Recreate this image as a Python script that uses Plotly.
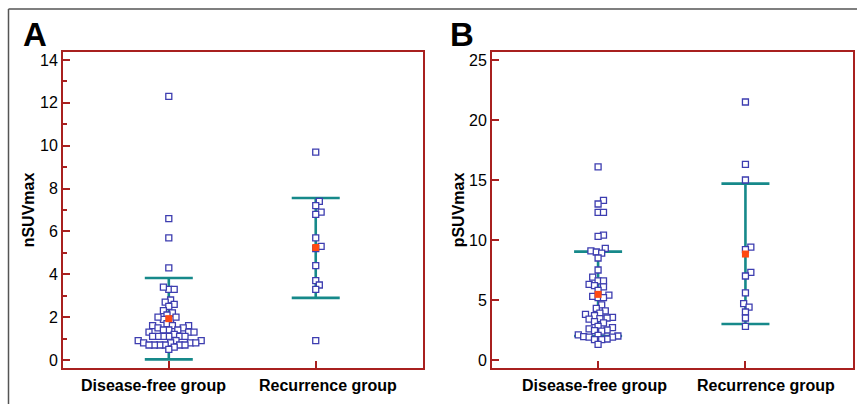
import plotly.graph_objects as go

# ---------------- data ----------------
groups = ["Disease-free group", "Recurrence group"]

nsuv_disease_free = [12.3, 6.6, 5.7, 4.3, 3.3, 3.3, 3.4, 2.8, 2.7, 2.6, 2.5, 2.3, 2.2, 2.1,
                     1.9, 1.9, 2.0, 2.0, 1.7, 1.6, 1.6, 1.6, 1.5, 1.5, 1.4, 1.4, 1.4,
                     1.3, 1.3, 1.3, 1.2, 1.1, 1.1, 1.1, 1.1, 1.1, 1.1, 0.9, 0.9, 0.9,
                     0.8, 0.8, 0.8, 0.8, 0.7, 0.7, 0.7, 0.7, 0.7, 0.7, 0.6, 0.5]
nsuv_recurrence = [9.7, 7.4, 7.2, 6.9, 6.8, 5.7, 5.3, 5.2, 4.4, 3.7, 3.5, 3.3, 0.9]

psuv_disease_free = [16.1, 13.3, 13.0, 12.3, 12.3, 10.4, 10.3, 9.3, 9.1, 9.0, 8.9, 8.5, 7.5,
                     6.9, 6.6, 6.6, 6.3, 6.2, 6.1, 5.8, 5.4, 5.3, 5.2, 5.2, 4.6, 4.3, 4.1,
                     3.9, 3.8, 3.7, 3.55, 3.5, 3.45, 3.4, 3.2, 3.1, 2.8, 2.7, 2.6, 2.5,
                     2.45, 2.4, 2.1, 2.05, 2.0, 1.95, 1.9, 1.9, 1.75, 1.7, 1.7, 1.3]
psuv_recurrence = [21.5, 16.3, 15.0, 9.4, 9.2, 7.3, 7.0, 5.6, 4.7, 4.4, 4.0, 3.5, 2.8]

# mean and error-bar ends per group
nsuv_mean = [1.93, 5.25]
nsuv_low = [0.03, 2.9]
nsuv_high = [3.83, 7.56]

psuv_mean = [5.47, 8.83]
psuv_low = [2.0, 3.0]
psuv_high = [9.03, 14.7]

nsuv_ticks = [0, 2, 4, 6, 8, 10, 12, 14]
psuv_ticks = [0, 5, 10, 15, 20, 25]

# ---------------- styling ----------------
FONT = "Liberation Sans, Arial, sans-serif"
FRAME = "#a8201f"
TEAL = "#16898a"
BLUE = "#3d3db0"
RED = "#ff4a12"

W, H = 857, 404
X_RANGE = [-0.72, 1.73]


def swarm(values, y_range, x_range, dom_h_px, dom_w_px, r=5.3, step=1.8):
    """Beeswarm offsets (in category units) computed from the values."""
    ppu_y = dom_h_px / (y_range[1] - y_range[0])
    ppu_x = dom_w_px / (x_range[1] - x_range[0])
    order = sorted(range(len(values)), key=lambda i: values[i])
    placed = []
    offs = [0.0] * len(values)
    cands = [0.0] + [s * m * step for m in range(1, 120) for s in (1, -1)]
    for i in order:
        y = values[i] * ppu_y
        for c in cands:
            if all((c - px) ** 2 + (y - py) ** 2 >= r * r for px, py in placed):
                break
        placed.append((c, y))
        offs[i] = c / ppu_x
    return offs


fig = go.Figure()

Y_TOP, Y_BOT = 52, 368
panels = [
    dict(xa="x", ya="y", data=[nsuv_disease_free, nsuv_recurrence], mean=nsuv_mean,
         low=nsuv_low, high=nsuv_high, yr=[-0.373, 14.373], dom=[63, 423],
         label_shift=[-15, 12]),
    dict(xa="x2", ya="y2", data=[psuv_disease_free, psuv_recurrence], mean=psuv_mean,
         low=psuv_low, high=psuv_high, yr=[-0.667, 25.667], dom=[492, 853],
         label_shift=[-4, 21]),
]

for p in panels:
    # error bars (behind points)
    fig.add_trace(go.Scatter(
        x=[0, 1], y=p["mean"], xaxis=p["xa"], yaxis=p["ya"], mode="markers",
        marker=dict(size=1, color="rgba(0,0,0,0)"),
        error_y=dict(type="data", symmetric=False,
                     array=[h - m for h, m in zip(p["high"], p["mean"])],
                     arrayminus=[m - l for m, l in zip(p["mean"], p["low"])],
                     color=TEAL, thickness=2.6, width=24),
        showlegend=False, hoverinfo="skip"))
    # individual points
    for gi, vals in enumerate(p["data"]):
        offs = swarm(vals, p["yr"], X_RANGE, Y_BOT - Y_TOP, p["dom"][1] - p["dom"][0])
        fig.add_trace(go.Scatter(
            x=[gi + o for o in offs], y=vals, xaxis=p["xa"], yaxis=p["ya"], mode="markers",
            marker=dict(symbol="square", size=6, color="white",
                        line=dict(color=BLUE, width=1.3)),
            showlegend=False))
    # means
    fig.add_trace(go.Scatter(
        x=[0, 1], y=p["mean"], xaxis=p["xa"], yaxis=p["ya"], mode="markers",
        marker=dict(symbol="square", size=7, color=RED, line=dict(width=0)),
        showlegend=False))
    # category labels (placed like the reference, slightly off the ticks)
    for gi, name in enumerate(groups):
        fig.add_annotation(text=name, x=gi, xref=p["xa"], y=1 - 385 / H, yref="paper",
                           xshift=p["label_shift"][gi], showarrow=False,
                           xanchor="center", yanchor="middle",
                           font=dict(family=FONT, size=16, color="black", weight="bold"))

common_axis = dict(showline=True, linecolor=FRAME, linewidth=2, mirror=True,
                   ticks="inside", tickcolor=FRAME, tickwidth=2, ticklen=7,
                   showgrid=False, zeroline=False,
                   tickfont=dict(family=FONT, size=16, color="black"))

for i, p in enumerate(panels):
    sfx = "" if i == 0 else "2"
    fig.layout["xaxis" + sfx] = dict(
        common_axis, domain=[p["dom"][0] / W, p["dom"][1] / W], range=X_RANGE,
        tickvals=[0, 1], ticktext=groups, showticklabels=False, anchor="y" + sfx)

title_font = dict(family=FONT, size=16, color="black", weight="bold")
fig.layout.yaxis = dict(
    common_axis, domain=[1 - Y_BOT / H, 1 - Y_TOP / H], range=panels[0]["yr"],
    tickvals=nsuv_ticks, anchor="x", ticklabelstandoff=0,
    minor=dict(ticks="inside", ticklen=4, tickcolor=FRAME, tickwidth=1.5, dtick=1),
    title=dict(text="nSUVmax", standoff=1, font=title_font))
fig.layout.yaxis2 = dict(
    common_axis, domain=[1 - Y_BOT / H, 1 - Y_TOP / H], range=panels[1]["yr"],
    tickvals=psuv_ticks, anchor="x2", ticklabelstandoff=0,
    title=dict(text="pSUVmax", standoff=0, font=title_font))

# panel letters
for letter, xpx in [("A", 21), ("B", 448)]:
    fig.add_annotation(text=letter, x=xpx / W, y=1 - 35 / H, xref="paper", yref="paper",
                       xanchor="left", yanchor="middle", showarrow=False,
                       font=dict(family=FONT, size=33, color="black", weight="bold"))

# outer frame (top and left edges)
fig.add_shape(type="line", xref="paper", yref="paper", x0=8.5 / W, x1=1, y0=1 - 9 / H, y1=1 - 9 / H,
              line=dict(color="#555555", width=1.5))
fig.add_shape(type="line", xref="paper", yref="paper", x0=8.5 / W, x1=8.5 / W, y0=0, y1=1 - 9 / H,
              line=dict(color="#555555", width=1.5))

fig.update_layout(width=W, height=H, margin=dict(l=0, r=0, t=0, b=0),
                  paper_bgcolor="white", plot_bgcolor="white",
                  font=dict(family=FONT, color="black"))

fig.write_html("out.html", config={"displayModeBar": False},
               post_script="document.body.style.margin='0';document.body.style.overflow='hidden';")
